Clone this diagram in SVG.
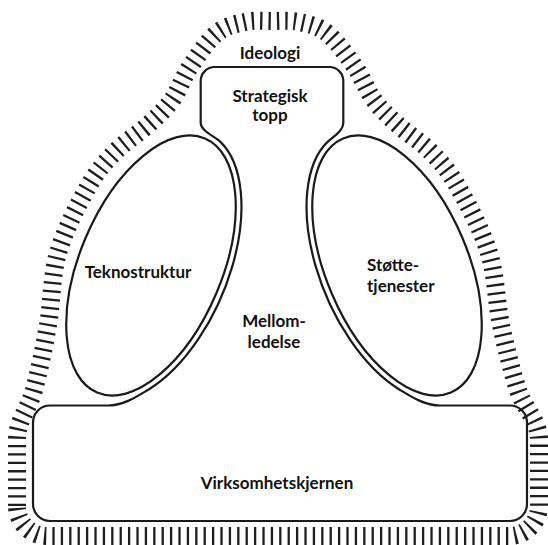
<svg xmlns="http://www.w3.org/2000/svg" width="548" height="545" viewBox="0 0 548 545">
<style>
.bg{fill:#ffffff}
.line{fill:none;stroke:#1a1a1a;stroke-width:2.2;stroke-linejoin:round}
.hatch{fill:none;stroke:#1e1e1e;stroke-width:18;stroke-dasharray:2.3 6.1}
.lbl{font-family:Lato,"Liberation Sans",sans-serif;font-weight:bold;font-size:17px;fill:#111111}
.mid{text-anchor:middle}
</style>
<rect class="bg" x="0" y="0" width="548" height="545"/>
<g id="ideologi">
<path class="hatch" d="M17,506 L17,440 C17,420 28.83,409.17 34,390 C39.17,370.83 44,347.83 48,325 C52,302.17 51.33,276 58,253 C64.67,230 78.5,203.83 88,187 C97.5,170.170 105,162.33 115,152 C125,141.67 138.5,133.67 148,125 C157.5,116.33 165,109.67 172,100 C179,90.33 182.5,78.17 190,67 C197.5,55.83 207.83,40.5 217,33 C226.17,25.5 235.83,24 245,22 C254.17,20 263,21 272,21 C281,21 289.83,20 299,22 C308.17,24 317.67,25.5 327,33 C336.33,40.5 347.17,55.83 355,67 C362.83,78.17 366.83,90.33 374,100 C381.17,109.67 388.5,116.33 398,125 C407.5,133.67 421,141.67 431,152 C441,162.33 448.33,170.17 458,187 C467.67,203.83 481.83,230 489,253 C496.17,276 496.17,302.17 501,325 C505.83,347.83 511.67,370.83 518,390 C524.33,409.17 539,420 539,440 L539,506 A30,30 0 0 1 509,536 L47,536 A30,30 0 0 1 17,506 Z"/>
<text class="lbl mid" x="270" y="59">Ideologi</text>
</g>
<g id="mellomledelse">
<path class="line" d="M200.7,123 L200.7,81 A14,14 0 0 1 214.7,67 L329.3,67 A14,14 0 0 1 343.3,81 L343.3,123 C343.3,131 333.6,136.1 327.8,141.6 A144,77 67 0 0 399.65,389.7 C411.6,397 425,405.5 440,405.5 L510,405.5 A17,17 0 0 1 527,422.5 L527,504 A17,17 0 0 1 510,521 L50,521 A17,17 0 0 1 33,504 L33,422.5 A17,17 0 0 1 50,405.5 L108,405.5 C123,405.5 136.4,397 148.35,389.7 A144,77 -67 0 0 220.2,141.6 C214.4,136.1 200.7,131 200.7,123 Z"/>
<text class="lbl mid" x="274" y="327">Mellom-</text>
<text class="lbl mid" x="274" y="348">ledelse</text>
</g>
<g id="strategisk-topp">
<text class="lbl mid" x="270" y="102">Strategisk</text>
<text class="lbl mid" x="270" y="121">topp</text>
</g>
<g id="teknostruktur">
<ellipse class="line" cx="151" cy="265.5" rx="138" ry="71" transform="rotate(-67 151 265.5)"/>
<text class="lbl mid" x="138" y="278">Teknostruktur</text>
</g>
<g id="stottetjenester">
<ellipse class="line" cx="397" cy="265.5" rx="138" ry="71" transform="rotate(67 397 265.5)"/>
<text class="lbl" x="367" y="271">Støtte-</text>
<text class="lbl" x="367" y="292">tjenester</text>
</g>
<g id="virksomhetskjernen">
<text class="lbl mid" x="277" y="489">Virksomhetskjernen</text>
</g>
<g id="connectors"></g>
</svg>
